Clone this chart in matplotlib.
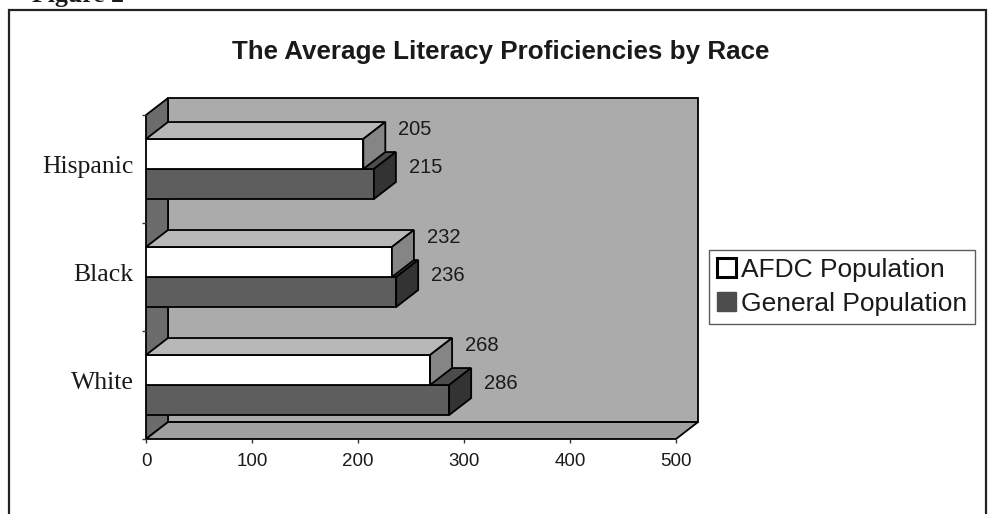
import matplotlib
matplotlib.use("Agg")
import matplotlib.pyplot as plt
from matplotlib.patches import Polygon, Rectangle, Patch
import numpy as np

# ---- data ----
categories = ["Hispanic", "Black", "White"]
afdc_values = [205, 232, 268]
general_values = [215, 236, 286]
series_names = ["AFDC Population", "General Population"]
x_ticks = [0, 100, 200, 300, 400, 500]
title_text = "The Average Literacy Proficiencies by Race"
figure_caption = "Figure 2"

# ---- layout helpers (pixel -> figure fraction) ----
W, H, DPI = 988, 514, 100
fig = plt.figure(figsize=(W / DPI, H / DPI), dpi=DPI)
fig.patch.set_facecolor("white")


def fx(px):
    return px / W


def fy(py):
    return 1 - py / H


SANS = "Liberation Sans"
SERIF = "Liberation Serif"
INK = "#1a1a1a"

# front plane of the 3-D plot box
ax = fig.add_axes([fx(146), fy(439), fx(676) - fx(146), fy(115) - fy(439)])
ax.set_xlim(0, 500)
ax.set_ylim(-0.5, 2.5)
ax.patch.set_visible(False)
for s in ax.spines.values():
    s.set_visible(False)

# depth of the oblique projection, in data units
DX = 20.75
DY = 0.157
BH = 0.278  # bar thickness per series

XMAX = x_ticks[-1]
y_lo, y_hi = -0.5, 2.5

wall_c = "#ababab"
side_wall_c = "#6c6c6c"
floor_c = "#a0a0a0"
edge_kw = dict(edgecolor="black", linewidth=1.3, clip_on=False)

# back wall, left wall, floor
ax.add_patch(Polygon([(DX, y_lo + DY), (XMAX + DX, y_lo + DY),
                      (XMAX + DX, y_hi + DY), (DX, y_hi + DY)],
                     facecolor=wall_c, zorder=0.5, **edge_kw))
ax.add_patch(Polygon([(0, y_lo), (DX, y_lo + DY), (DX, y_hi + DY), (0, y_hi)],
                     facecolor=side_wall_c, zorder=0.6, **edge_kw))
ax.add_patch(Polygon([(0, y_lo), (XMAX, y_lo), (XMAX + DX, y_lo + DY),
                      (DX, y_lo + DY)],
                     facecolor=floor_c, zorder=0.7, **edge_kw))

# category centres (top to bottom)
ypos = np.arange(len(categories))[::-1].astype(float)

styles = {
    "general": dict(front="#5e5e5e", top="#4c4c4c", side="#333333"),
    "afdc": dict(front="#ffffff", top="#b8b8b8", side="#858585"),
}


def box_faces(vals, y0s, st, z):
    for v, y0 in zip(vals, y0s):
        y1 = y0 + BH
        ax.add_patch(Polygon([(0, y1), (v, y1), (v + DX, y1 + DY), (DX, y1 + DY)],
                             facecolor=st["top"], zorder=z, **edge_kw))
        ax.add_patch(Polygon([(v, y0), (v + DX, y0 + DY), (v + DX, y1 + DY), (v, y1)],
                             facecolor=st["side"], zorder=z, **edge_kw))


# general population: lower bar of each pair
ax.barh(ypos - BH / 2, general_values, height=BH,
        color=styles["general"]["front"], edgecolor="black", linewidth=1.3,
        zorder=2)
box_faces(general_values, ypos - BH, styles["general"], 3)

# AFDC population: upper bar of each pair
ax.barh(ypos + BH / 2, afdc_values, height=BH,
        color=styles["afdc"]["front"], edgecolor="black", linewidth=1.3,
        zorder=4)
box_faces(afdc_values, ypos, styles["afdc"], 5)

# value labels
LBL_DX = 12.0
for v, c in zip(afdc_values, ypos):
    ax.text(v + DX + LBL_DX, c + BH / 2 + DY + 0.07, f"{v}", ha="left",
            va="center", fontsize=14.5, family=SANS, color=INK, zorder=6)
for v, c in zip(general_values, ypos):
    ax.text(v + DX + LBL_DX, c - BH / 2 + DY, f"{v}", ha="left",
            va="center", fontsize=14.5, family=SANS, color=INK, zorder=6)

# x axis ticks
ax.set_xticks(x_ticks)
ax.set_xticklabels([str(t) for t in x_ticks], fontsize=13.5, family=SANS,
                   color=INK)
ax.tick_params(axis="x", direction="out", length=3, width=1, pad=7,
               color="#333333")

# category axis: ticks between categories, labels at centres
ax.set_yticks([-0.5, 0.5, 1.5, 2.5])
ax.set_yticklabels([])
ax.set_yticks(ypos + 0.04, minor=True)
ax.set_yticklabels(categories, minor=True, fontsize=18.5, family=SERIF,
                   color=INK)
ax.tick_params(axis="y", which="major", direction="out", length=3, width=1,
               color="#333333")
ax.tick_params(axis="y", which="minor", length=0, pad=9)

# title
fig.text(fx(501), fy(52), title_text, ha="center", va="center",
         fontsize=18.7, weight="bold", family=SANS, color=INK)

# caption above the frame, trimmed by the page edge
fig.text(fx(32), fy(2), figure_caption, ha="left", va="baseline",
         fontsize=18.5, weight="bold", family=SERIF, color=INK)

# outer frame
fig.add_artist(Rectangle((fx(9), fy(560)), fx(986) - fx(9), fy(10) - fy(560),
                         transform=fig.transFigure, fill=False,
                         edgecolor="#222222", linewidth=1.6))

# legend
handles = [Patch(facecolor="white", edgecolor="black", linewidth=2.2),
           Patch(facecolor="#4d4d4d", edgecolor="#4d4d4d")]
leg = fig.legend(handles, series_names, loc="upper left",
                 bbox_to_anchor=(fx(709), fy(250)), frameon=True,
                 fancybox=False, edgecolor="#333333",
                 prop=dict(family=SANS, size=19.0),
                 handlelength=0.72, handleheight=0.72, handletextpad=0.2,
                 borderpad=0.3, labelspacing=0.38, borderaxespad=0)
leg.get_frame().set_linewidth(1.0)
for t in leg.get_texts():
    t.set_color(INK)

fig.savefig("out.png", dpi=DPI)
